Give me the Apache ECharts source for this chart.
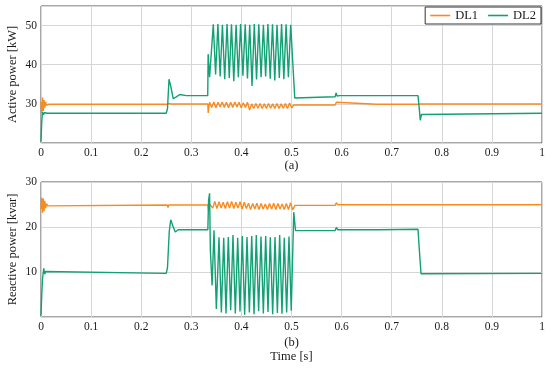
<!DOCTYPE html>
<html><head><meta charset="utf-8">
<script src="https://cdn.jsdelivr.net/npm/echarts@6/dist/echarts.min.js"></script>
<style>html,body{margin:0;padding:0;background:#fff}#c{width:550px;height:370px}</style>
</head><body><div id="c"></div><script>
// ---- tick labels ----
const timeTicks = [0, 0.1, 0.2, 0.3, 0.4, 0.5, 0.6, 0.7, 0.8, 0.9, 1];
const activeTicks = [30, 40, 50];
const reactiveTicks = [10, 20, 30];
const seriesNames = ['DL1', 'DL2'];

// ---- (a) Active power [kW] ----
const activeDL1Time = [0, 0.0015, 0.003, 0.0045, 0.006, 0.0075, 0.009, 0.011, 0.015, 0.252, 0.2535, 0.256, 0.26, 0.333, 0.3337, 0.3352,
  0.3365, 0.3407, 0.3449, 0.3491, 0.3533, 0.3575, 0.3617, 0.3659, 0.3701, 0.3743, 0.3785, 0.3827, 0.3869, 0.3911, 0.3953, 0.3995, 0.4037, 0.4079, 0.4121, 0.4163,
  0.4205, 0.4247, 0.4289, 0.4331, 0.4373, 0.4415, 0.4457, 0.4499, 0.4541, 0.4583, 0.4625, 0.4667, 0.4709, 0.4751, 0.4793, 0.4835, 0.4877, 0.4919, 0.4961, 0.5003,
  0.5045, 0.587, 0.5895, 0.592, 0.67, 0.672, 0.674, 0.753, 0.755, 0.757, 1];
const activeDL1 = [30.5, 27.6, 31.6, 28.2, 31.0, 29.0, 30.5, 29.6, 29.9, 29.9, 29.6, 30.1, 29.95, 29.95, 27.7, 29.6,
  30.4, 29.1, 30.5, 29.0, 30.4, 29.2, 30.5, 29.1, 30.4, 29.0, 30.4, 29.1, 30.5, 29.2, 30.4, 29.0, 30.3, 29.1, 30.4, 28.4,
  30.0, 28.8, 30.1, 28.9, 30.1, 28.8, 30.0, 28.8, 30.1, 28.9, 30.0, 28.8, 30.1, 28.8, 30.0, 28.9, 30.1, 28.8, 30.2, 29.0,
  29.7, 29.7, 30.4, 29.9, 29.9, 30.3, 29.9, 29.9, 30.1, 29.95, 29.95];

const activeDL2Time = [0, 0.0015, 0.003, 0.005, 0.007, 0.009, 0.012, 0.25, 0.2525, 0.2555, 0.259, 0.264, 0.27, 0.277, 0.29, 0.3328, 0.3336, 0.3365,
  0.3439, 0.3485, 0.3531, 0.3576, 0.3621, 0.3667, 0.3713, 0.3758, 0.3802, 0.3848, 0.3894, 0.3939, 0.3984, 0.4030, 0.4076, 0.4121, 0.4166, 0.4212,
  0.4257, 0.4302, 0.4347, 0.4393, 0.4439, 0.4484, 0.4529, 0.4575, 0.4621, 0.4666, 0.4711, 0.4757, 0.4802, 0.4847, 0.4892, 0.4938, 0.4984,
  0.5065, 0.51, 0.587, 0.589, 0.591, 0.593, 0.596, 0.67, 0.672, 0.674, 0.7525, 0.7545, 0.757, 0.7595, 0.763, 1];
const activeDL2 = [20.3, 25.5, 27.9, 27.2, 27.8, 27.4, 27.6, 27.6, 28.8, 36.3, 34.5, 31.3, 31.8, 32.4, 32.1, 32.1, 42.7, 36.8,
  50.3, 37.5, 50.4, 37.0, 50.2, 36.3, 50.4, 36.6, 50.3, 35.8, 50.2, 36.8, 50.4, 37.2, 50.3, 36.5, 50.2, 34.6,
  50.4, 36.2, 50.3, 36.8, 50.2, 37.0, 50.4, 36.4, 50.3, 36.0, 50.2, 36.6, 50.4, 36.3, 50.3, 36.8, 50.2,
  31.5, 31.8, 31.8, 32.8, 32.0, 32.4, 32.1, 32.1, 32.6, 32.1, 32.1, 29.5, 25.8, 27.3, 27.6, 27.6];

// ---- (b) Reactive power [kvar] ----
const reactiveDL1Time = [0, 0.0015, 0.003, 0.0045, 0.006, 0.0075, 0.009, 0.011, 0.013, 0.016, 0.252, 0.2535, 0.255, 0.333, 0.3345, 0.336,
  0.3385, 0.3427, 0.3469, 0.3511, 0.3553, 0.3595, 0.3637, 0.3679, 0.3721, 0.3763, 0.3805, 0.3847, 0.3889, 0.3931, 0.3973, 0.4015, 0.4057, 0.4099, 0.4141, 0.4183,
  0.4225, 0.4267, 0.4309, 0.4351, 0.4393, 0.4435, 0.4477, 0.4519, 0.4561, 0.4603, 0.4645, 0.4687, 0.4729, 0.4771, 0.4813, 0.4855, 0.4897, 0.4939, 0.4981, 0.5023,
  0.5045, 0.507, 0.587, 0.5895, 0.592, 0.67, 0.672, 0.674, 0.753, 0.755, 0.757, 1];
const reactiveDL1 = [24.0, 26.5, 23.2, 26.3, 23.5, 25.8, 24.2, 25.2, 24.7, 24.9, 24.9, 24.3, 24.9, 24.9, 23.5, 25.2,
  25.6, 24.2, 25.7, 24.1, 25.6, 24.2, 25.5, 24.1, 25.6, 24.2, 25.7, 24.1, 25.5, 24.2, 25.6, 24.0, 25.5, 24.1, 25.3, 23.9,
  25.2, 24.0, 25.3, 23.9, 25.2, 24.0, 25.1, 23.9, 25.2, 24.0, 25.3, 23.9, 25.2, 24.0, 25.1, 23.9, 25.2, 23.9, 25.4, 23.8,
  24.3, 24.8, 24.8, 25.4, 24.95, 24.95, 25.3, 24.95, 24.95, 25.3, 24.95, 24.95];

const reactiveDL2Time = [0, 0.0015, 0.003, 0.0055, 0.0075, 0.009, 0.011, 0.25, 0.2525, 0.256, 0.259, 0.263, 0.268, 0.274, 0.333, 0.3345, 0.3365, 0.338, 0.3415, 0.3453,
  0.3500, 0.3553, 0.3600, 0.3647, 0.3693, 0.3739, 0.3786, 0.3832, 0.3879, 0.3926, 0.3972, 0.4018, 0.4065, 0.4112, 0.4159, 0.4206,
  0.4252, 0.4297, 0.4344, 0.4391, 0.4438, 0.4485, 0.4531, 0.4577, 0.4624, 0.4671, 0.4718, 0.4764, 0.4810, 0.4856, 0.4903, 0.4950, 0.4995,
  0.5045, 0.508, 0.587, 0.5895, 0.592, 0.67, 0.672, 0.674, 0.7525, 0.7545, 0.7585, 0.762, 1];
const reactiveDL2 = [0.3, 5.0, 8.5, 10.8, 9.5, 10.1, 9.7, 9.7, 11.0, 19.0, 21.6, 20.3, 18.9, 19.4, 19.4, 26.0, 27.5, 15.0, 7.0, 19.3,
  1.8, 17.7, 1.0, 17.6, 0.8, 17.8, 1.5, 18.2, 0.8, 17.6, 1.2, 18.0, 0.5, 17.8, 1.0, 18.0,
  0.6, 18.2, 1.3, 17.9, 0.8, 18.0, 1.1, 17.7, 0.6, 17.8, 0.9, 18.2, 0.7, 17.6, 1.0, 17.9, 1.4,
  23.3, 19.2, 19.2, 19.9, 19.4, 19.4, 19.8, 19.4, 19.5, 16.0, 9.6, 9.7, 9.7];

// ---- build ----
const pairs = (t, v) => t.map((x, i) => [x, v[i]]);
const FONT = 'Liberation Serif';
const TXT = '#1a1a1a';
const ORANGE = '#fb8a1e';
const GREEN = '#12a075';

const grid = (top, height) => ({left: 41, right: 8, top, height, show: true,
  outerBoundsMode: 'none', containLabel: false,
  borderColor: '#505050', borderWidth: 1, backgroundColor: 'transparent'});

const xAx = (gi, name, gap) => ({
  gridIndex: gi, type: 'value', min: 0, max: 1, interval: 0.1,
  name, nameLocation: 'middle', nameGap: gap, nameMoveOverlap: false,
  nameTextStyle: {fontFamily: FONT, fontSize: 12.5, color: TXT, lineHeight: 14},
  axisLine: {show: false}, axisTick: {show: false},
  axisLabel: {margin: 4, fontFamily: FONT, fontSize: 11.5, color: TXT,
    formatter: v => timeTicks.some(t => Math.abs(t - v) < 1e-9) ? String(+v.toFixed(1)) : ''},
  splitLine: {show: true, lineStyle: {color: '#d6d6d6', width: 1}}
});
const yAx = (gi, min, max, ticks, name) => ({
  gridIndex: gi, type: 'value', min, max, interval: 10,
  name, nameLocation: 'middle', nameGap: 22, nameMoveOverlap: false,
  nameTextStyle: {fontFamily: FONT, fontSize: 12.5, color: TXT},
  axisLine: {show: false}, axisTick: {show: false},
  axisLabel: {margin: 4, fontFamily: FONT, fontSize: 11.5, color: TXT,
    formatter: v => ticks.includes(v) ? String(v) : ''},
  splitLine: {show: true, lineStyle: {color: '#d6d6d6', width: 1}}
});
const line = (name, xi, data, color) => ({
  name, type: 'line', xAxisIndex: xi, yAxisIndex: xi, data, color,
  symbol: 'none', showSymbol: false, lineStyle: {width: 1.4, color}, animation: false
});

const chart = echarts.init(document.getElementById('c'), null, {renderer: 'canvas'});
chart.setOption({
  animation: false,
  backgroundColor: '#fff',
  grid: [grid(6, 137), grid(182, 135)],
  xAxis: [xAx(0, '(a)', 16), xAx(1, '(b)\nTime [s]', 19)],
  yAxis: [yAx(0, 20, 55, activeTicks, 'Active power [kW]'), yAx(1, 0, 30, reactiveTicks, 'Reactive power [kvar]')],
  legend: {data: seriesNames, right: 9, top: 7, orient: 'horizontal', icon: 'rect',
    backgroundColor: '#fff', borderColor: '#333', borderWidth: 1, borderRadius: 0,
    padding: [2, 5, 2, 5], itemWidth: 20, itemHeight: 1.6, itemGap: 10,
    textStyle: {fontFamily: FONT, fontSize: 12.5, color: TXT}},
  series: [
    line(seriesNames[0], 0, pairs(activeDL1Time, activeDL1), ORANGE),
    line(seriesNames[1], 0, pairs(activeDL2Time, activeDL2), GREEN),
    line(seriesNames[0], 1, pairs(reactiveDL1Time, reactiveDL1), ORANGE),
    line(seriesNames[1], 1, pairs(reactiveDL2Time, reactiveDL2), GREEN)
  ]
});
</script></body></html>
